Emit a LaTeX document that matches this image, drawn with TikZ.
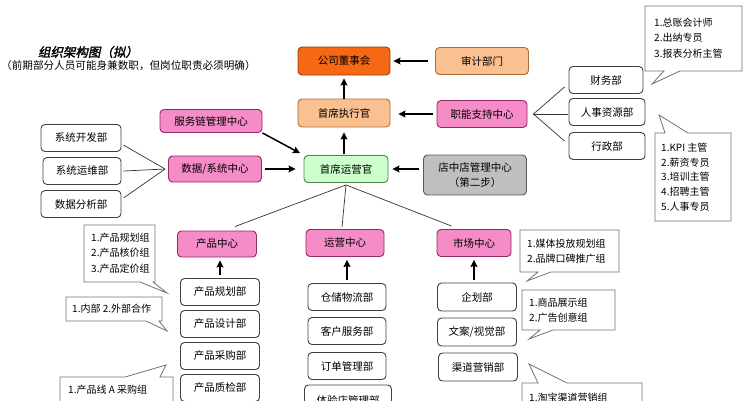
\documentclass[tikz,border=0pt]{standalone}
\usepackage{fontspec}
\setmainfont{Noto Sans CJK SC}
\newfontfamily\titlefont[FakeSlant=0.2,FakeBold=2]{Noto Sans CJK SC}
\usetikzlibrary{arrows.meta}
\definecolor{boardc}{RGB}{247,104,20}
\definecolor{boardd}{RGB}{150,60,10}
\definecolor{orgc}{RGB}{250,192,144}
\definecolor{orgd}{RGB}{170,110,60}
\definecolor{pinkc}{RGB}{245,140,200}
\definecolor{pinkd}{RGB}{150,40,100}
\definecolor{greenc}{RGB}{204,255,204}
\definecolor{greend}{RGB}{80,130,80}
\definecolor{greyc}{RGB}{191,191,191}
\definecolor{greyd}{RGB}{90,90,90}
\newcommand{\fz}{\fontsize{10.5}{13}\selectfont}
\newcommand{\fc}{\fontsize{10}{15.5}\selectfont}
\begin{document}
\begin{tikzpicture}[x=1pt,y=-1pt,
  base/.style={rounded corners=4pt, line width=0.9pt, inner sep=0pt, align=center, font=\fz},
  wbox/.style={base, draw=black!75, fill=white},
  pbox/.style={base, draw=pinkd, fill=pinkc},
  obox/.style={base, draw=orgd, fill=orgc},
  sz/.style 2 args={minimum width=#1pt, minimum height=#2pt},
  arr/.style={line width=1.5pt, -{Stealth[length=7pt,width=7pt,inset=1pt]}},
  fan/.style={line width=0.7pt, draw=black!80},
  call/.style={draw=black!55, line width=0.8pt, fill=white},
  ctext/.style={font=\fc, align=left, inner sep=0pt, anchor=west}
]
\useasboundingbox (0,0) rectangle (747,400);

% titles
\node[font=\titlefont\fontsize{12.5}{14}\selectfont, inner sep=0pt] (title) at (88,52) {组织架构图（拟）};
\node[font=\fontsize{10.6}{13}\selectfont, inner sep=0pt, anchor=west] (sub) at (1,66) {（前期部分人员可能身兼数职，但岗位职责必须明确）};

% top nodes
\node[base, draw=boardd, fill=boardc, sz={92}{28}] (board) at (344,61) {公司董事会};
\node[obox, sz={93}{27}] (audit) at (482,61) {审计部门};
\node[obox, sz={92}{28}] (ceo) at (344,113) {首席执行官};
\node[pbox, sz={90}{27}] (support) at (482,114) {职能支持中心};
\node[base, draw=greend, fill=greenc, sz={84}{27}] (coo) at (346,169) {首席运营官};
\node[base, draw=greyd, fill=greyc, sz={103}{40}, font=\fz\linespread{1.15}\selectfont] (store) at (475,175) {店中店管理中心\\（第二步）};
\node[pbox, sz={102}{23}] (service) at (211,121) {服务链管理中心};
\node[pbox, sz={93}{26}] (data) at (215,169) {数据/系统中心};

\node[wbox, sz={80}{27}] (xtkf) at (81,138) {系统开发部};
\node[wbox, sz={78}{27}] (xtyw) at (82,171) {系统运维部};
\node[wbox, sz={80}{27}] (sjfx) at (81,204) {数据分析部};

\node[wbox, sz={74}{27}] (fin) at (606,80) {财务部};
\node[wbox, sz={76}{27}] (hr) at (607,112) {人事资源部};
\node[wbox, sz={76}{27}] (adm) at (607,146) {行政部};

% centers
\node[pbox, sz={79}{26}] (pc) at (217,244) {产品中心};
\node[pbox, sz={78}{27}] (oc) at (345,243) {运营中心};
\node[pbox, sz={74}{27}] (mc) at (474,243) {市场中心};

\node[wbox, sz={79}{27}] (p1) at (220,292) {产品规划部};
\node[wbox, sz={79}{27}] (p2) at (220,324) {产品设计部};
\node[wbox, sz={79}{27}] (p3) at (220,356) {产品采购部};
\node[wbox, sz={79}{27}] (p4) at (220,388) {产品质检部};

\node[wbox, sz={78}{27}] (o1) at (347,297) {仓储物流部};
\node[wbox, sz={78}{27}] (o2) at (347,331) {客户服务部};
\node[wbox, sz={78}{27}] (o3) at (347,366) {订单管理部};
\node[wbox, sz={87}{30}] (o4) at (348,400) {体验店管理部};

\node[wbox, sz={79}{28}] (m1) at (477,297) {企划部};
\node[wbox, sz={79}{28}] (m2) at (477,332) {文案/视觉部};
\node[wbox, sz={79}{28}] (m3) at (478,367) {渠道营销部};

% arrows
\draw[arr, shorten >=3pt] (ceo.north) -- (board.south);
\draw[arr, shorten >=5pt, shorten <=1pt] (coo.north -| ceo.south) -- (ceo.south);
\draw[arr, shorten <=7pt, shorten >=3pt] (audit.west) -- (audit.west -| board.east);
\draw[arr, shorten <=4pt, shorten >=8pt] (support.west) -- (support.west -| ceo.east);
\draw[arr, shorten <=4pt, shorten >=4pt] (store.west |- coo.east) -- (coo.east);
\draw[arr, shorten <=3pt, shorten >=8pt] (data.east) -- (data.east -| coo.west);
\draw[arr, shorten >=4pt] (service.south east) -- (coo.north west);
\draw[arr, shorten <=3pt, shorten >=3pt] (p1.north) -- (p1.north |- pc.south);
\draw[arr, shorten <=3pt, shorten >=3pt] (o1.north) -- (o1.north |- oc.south);
\draw[arr, shorten <=3pt, shorten >=3pt] (m1.north -| mc.south) -- (mc.south);

% fans
\coordinate (dfan) at ([xshift=-3pt]data.west);
\draw[fan] (dfan) -- ([xshift=2pt,yshift=-7pt]xtkf.east);
\draw[fan] (dfan) -- ([xshift=2pt]xtyw.east);
\draw[fan] (dfan) -- ([xshift=2pt,yshift=6pt]sjfx.east);
\coordinate (sfan) at ([xshift=6pt]support.east);
\draw[fan] (sfan) -- ([xshift=-4pt,yshift=-7pt]fin.west);
\draw[fan] (sfan) -- ([xshift=-1pt,yshift=-2pt]hr.west);
\draw[fan] (sfan) -- ([xshift=-4pt,yshift=5pt]adm.west);
\coordinate (cfan) at ([yshift=-2pt]coo.south);
\draw[fan] (cfan) -- ([xshift=-22pt,yshift=4pt]pc.north east);
\draw[fan] (cfan) -- ([xshift=-3pt,yshift=2pt]oc.north);
\draw[fan] (cfan) -- ([xshift=15pt,yshift=3pt]mc.north west);

% callouts
\draw[call] (645,6) -- (742,6) -- (742,71) -- (680,71) -- (652,84) -- (664,71) -- (645,71) -- cycle;
\node[ctext] (c1) at (654,38) {1.总账会计师\\2.出纳专员\\3.报表分析主管};

\draw[call] (655,133) -- (665,133) -- (659,115) -- (688,133) -- (731,133) -- (731,221) -- (655,221) -- cycle;
\node[ctext, font=\fontsize{10}{14.8}\selectfont] (c2) at (661,177) {1.KPI 主管\\2.薪资专员\\3.培训主管\\4.招聘主管\\5.人事专员};

\draw[call] (520,230) -- (619,230) -- (619,272) -- (551,272) -- (527,281) -- (538,272) -- (520,272) -- cycle;
\node[ctext] (c3) at (527,251) {1.媒体投放规划组\\2.品牌口碑推广组};

\draw[call] (522,290) -- (615,290) -- (615,330) -- (553,330) -- (529,339) -- (540,330) -- (522,330) -- cycle;
\node[ctext] (c4) at (529,310) {1.商品展示组\\2.广告创意组};

\draw[call] (522,383) -- (538,383) -- (529,364) -- (567,383) -- (642,383) -- (642,420) -- (522,420) -- cycle;
\node[ctext] (c5) at (529,398) {1.淘宝渠道营销组};

\draw[call] (84,225) -- (155,225) -- (155,282) -- (153,282) -- (167,293) -- (140,282) -- (84,282) -- cycle;
\node[ctext] (c6) at (91,253) {1.产品规划组\\2.产品核价组\\3.产品定价组};

\draw[call] (66,297) -- (162,297) -- (162,321) -- (159,321) -- (167,331) -- (146,321) -- (66,321) -- cycle;
\node[ctext] (c7) at (72,309) {1.内部 2.外部合作};

\draw[call] (60,377) -- (125,377) -- (166,365) -- (160,377) -- (173,377) -- (173,420) -- (60,420) -- cycle;
\node[ctext] (c8) at (68,390) {1.产品线 A 采购组};
\end{tikzpicture}
\end{document}
